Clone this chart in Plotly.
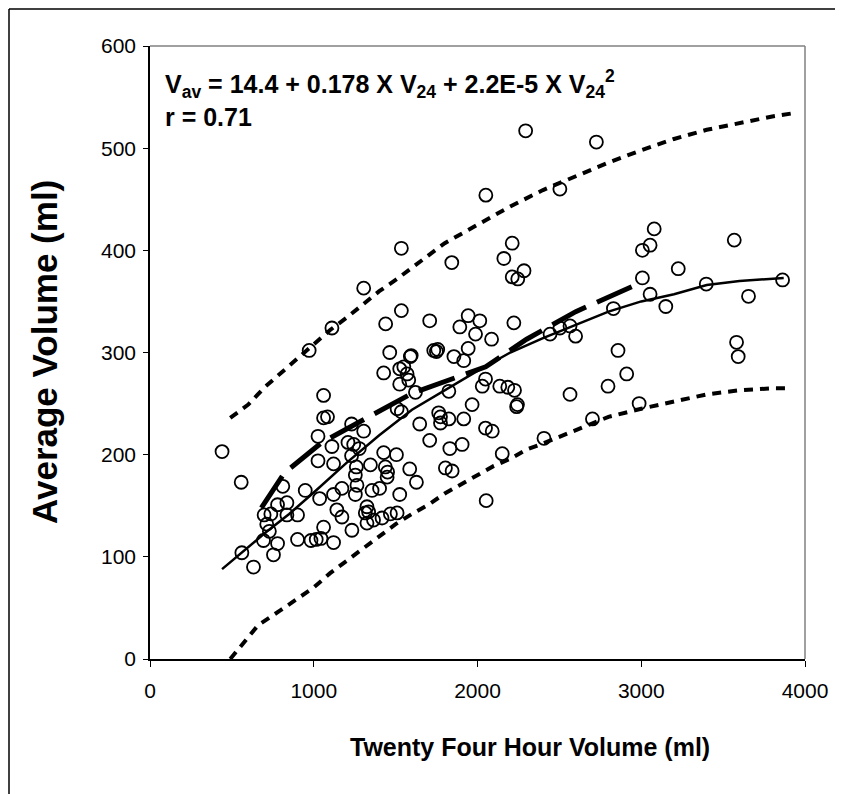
import plotly.graph_objects as go

# ---- scatter data (24-hour volume vs average volume, ml) ----
v24 = [440, 557, 561, 632, 693, 697, 713, 729, 738, 754, 779, 779, 811, 836, 836,
       901, 901, 948, 972, 983, 1015, 1026, 1026, 1036, 1044, 1060, 1060, 1060, 1084,
       1111, 1111, 1121, 1121, 1121, 1141, 1172, 1172, 1209, 1231, 1231, 1233, 1244,
       1254, 1260, 1264, 1254, 1278, 1305, 1305, 1315, 1325, 1325, 1335, 1346, 1356,
       1365, 1402, 1417, 1427, 1427, 1437, 1439, 1448, 1451, 1464, 1468, 1505, 1509,
       1509, 1525, 1525, 1525, 1535, 1535, 1535, 1550, 1570, 1580, 1586, 1590, 1595,
       1621, 1627, 1647, 1708, 1708, 1733, 1749, 1757, 1763, 1774, 1774, 1804, 1825,
       1825, 1831, 1843, 1845, 1856, 1892, 1906, 1916, 1916, 1943, 1943, 1967, 1988,
       2014, 2029, 2049, 2049, 2051, 2053, 2086, 2090, 2136, 2151, 2161, 2185, 2212,
       2212, 2222, 2226, 2239, 2244, 2246, 2284, 2294, 2406, 2443, 2503, 2503, 2565,
       2565, 2599, 2702, 2726, 2797, 2830, 2858, 2911, 2987, 3007, 3007, 3054, 3054,
       3079, 3150, 3226, 3397, 3568, 3582, 3592, 3655, 3863]
vav = [203, 173, 104, 90, 116, 141, 132, 125, 142, 102, 151, 113, 169, 153, 141,
       141, 117, 165, 302, 116, 117, 218, 194, 157, 118, 258, 236, 129, 237,
       324, 208, 191, 161, 114, 146, 167, 139, 212, 230, 199, 126, 210,
       180, 188, 170, 161, 206, 363, 223, 143, 149, 133, 144, 190, 165,
       136, 167, 138, 280, 202, 188, 328, 178, 183, 300, 142, 200, 245,
       143, 284, 269, 161, 402, 341, 242, 286, 279, 273, 186, 296, 297,
       261, 173, 230, 331, 214, 302, 301, 303, 241, 237, 231, 187, 262,
       235, 206, 388, 184, 296, 325, 210, 292, 235, 336, 304, 249, 318,
       331, 267, 274, 226, 454, 155, 313, 223, 267, 201, 392, 266, 407,
       374, 329, 263, 247, 249, 372, 380, 517, 216, 318, 460, 324, 326,
       259, 316, 235, 506, 267, 343, 302, 279, 250, 400, 373, 405, 357,
       421, 345, 382, 367, 410, 310, 296, 355, 371]

# ---- fitted curve (solid) ----
fit_x = [440, 560, 700, 850, 1000, 1200, 1400, 1600, 1800, 2000, 2200, 2400,
         2600, 2800, 3000, 3200, 3400, 3600, 3870]
fit_y = [88, 104, 123, 142, 163, 192, 219, 244, 263, 282, 300, 314,
         327, 340, 350, 357, 366, 370, 373]

# ---- running mean (long dashes) ----
mean_x = [680, 820, 1050, 1350, 1600, 2050, 2300, 2600, 2950]
mean_y = [148, 182, 212, 238, 260, 286, 313, 340, 365]

# ---- prediction limits (short dashes) ----
upper_x = [490, 600, 700, 800, 900, 1000, 1100, 1200, 1300, 1400, 1500, 1600,
           1800, 2000, 2200, 2400, 2600, 2800, 3000, 3200, 3400, 3600, 3800, 3920]
upper_y = [236, 249, 266, 280, 294, 309, 322, 334, 347, 360, 371, 383,
           407, 425, 443, 459, 473, 486, 498, 509, 518, 525, 531, 534]
lower_x = [490, 590, 660, 800, 900, 1000, 1100, 1200, 1300, 1400, 1500, 1600, 1700,
           1800, 1900, 2000, 2100, 2200, 2300, 2400, 2600, 2800, 3000, 3200, 3400,
           3600, 3800, 3920]
lower_y = [0, 19, 33, 48, 59, 70, 84, 96, 108, 120, 132, 142, 151,
           162, 171, 180, 189, 196, 205, 211, 224, 237, 245, 252, 259,
           263, 265, 265]

x_ticks = [0, 1000, 2000, 3000, 4000]
y_ticks = [0, 100, 200, 300, 400, 500, 600]

# page has an 8px body margin: figure origin sits at (8, 8)
OFF = 8
W, H = 835, 786
L, R, T, B = 142, 38, 38, 135
PW, PH = W - L - R, H - T - B


def px(x):
    """page pixel x -> paper coordinate"""
    return (x - OFF - L) / PW


def py(y):
    """page pixel y -> paper coordinate"""
    return (H - B - (y - OFF)) / PH


SANS = "Liberation Sans, Arial, sans-serif"

fig = go.Figure()
fig.add_trace(go.Scatter(x=upper_x, y=upper_y, mode="lines",
                         line=dict(color="black", width=4, dash="9px,7px"),
                         hoverinfo="skip"))
fig.add_trace(go.Scatter(x=lower_x, y=lower_y, mode="lines",
                         line=dict(color="black", width=4, dash="9px,7px"),
                         hoverinfo="skip"))
fig.add_trace(go.Scatter(x=mean_x, y=mean_y, mode="lines",
                         line=dict(color="black", width=5, dash="38px,12px"),
                         hoverinfo="skip"))
fig.add_trace(go.Scatter(x=fit_x, y=fit_y, mode="lines",
                         line=dict(color="black", width=2.5),
                         hoverinfo="skip"))
fig.add_trace(go.Scatter(x=v24, y=vav, mode="markers",
                         marker=dict(symbol="circle-open", size=13, color="black",
                                     line=dict(color="black", width=1.8))))

fig.update_layout(
    width=W, height=H,
    margin=dict(l=L, r=R, t=T, b=B),
    paper_bgcolor="white", plot_bgcolor="white",
    showlegend=False,
    xaxis=dict(range=[0, 4000], tickvals=x_ticks, ticks="outside", ticklen=6,
               tickcolor="black", showline=True, linecolor="black", linewidth=1.5,
               showgrid=False, zeroline=False, ticklabelstandoff=6,
               tickfont=dict(family=SANS, size=21, color="black")),
    yaxis=dict(range=[0, 600], tickvals=y_ticks, ticks="outside", ticklen=5,
               tickcolor="black", showline=True, linecolor="black", linewidth=1.5,
               showgrid=False, zeroline=False, ticklabelstandoff=3,
               tickfont=dict(family=SANS, size=21, color="black")),
    shapes=[
        # plot area border (top / right, grey)
        dict(type="line", xref="paper", yref="paper", x0=0, x1=1, y0=1, y1=1,
             line=dict(color="#808080", width=1.5)),
        dict(type="line", xref="paper", yref="paper", x0=1, x1=1, y0=0, y1=1,
             line=dict(color="#808080", width=1.5)),
        # outer chart frame (figure edge)
        dict(type="line", xref="paper", yref="paper", x0=px(9), x1=px(843),
             y0=py(9), y1=py(9), line=dict(color="black", width=1.5)),
        dict(type="line", xref="paper", yref="paper", x0=px(9), x1=px(9),
             y0=py(9), y1=py(794), line=dict(color="black", width=1.5)),
    ],
    annotations=[
        dict(xref="paper", yref="paper", x=px(530), y=py(747),
             text="<b>Twenty Four Hour Volume (ml)</b>", showarrow=False,
             font=dict(family=SANS, size=25, color="black"),
             xanchor="center", yanchor="middle"),
        dict(xref="paper", yref="paper", x=px(44), y=py(352),
             text="<b>Average Volume (ml)</b>", showarrow=False, textangle=-90,
             font=dict(family=SANS, size=35, color="black"),
             xanchor="center", yanchor="middle"),
        dict(xref="paper", yref="paper", x=px(163), y=py(84),
             text="<b>V<sub>av</sub> = 14.4 + 0.178 X V<sub>24</sub> + 2.2E-5 X V<sub>24</sub><sup>2</sup></b>",
             showarrow=False, font=dict(family=SANS, size=25, color="black"),
             xanchor="left", yanchor="middle"),
        dict(xref="paper", yref="paper", x=px(163), y=py(117),
             text="<b>r = 0.71</b>", showarrow=False,
             font=dict(family=SANS, size=25, color="black"),
             xanchor="left", yanchor="middle"),
    ],
)

fig.write_html("out.html")
